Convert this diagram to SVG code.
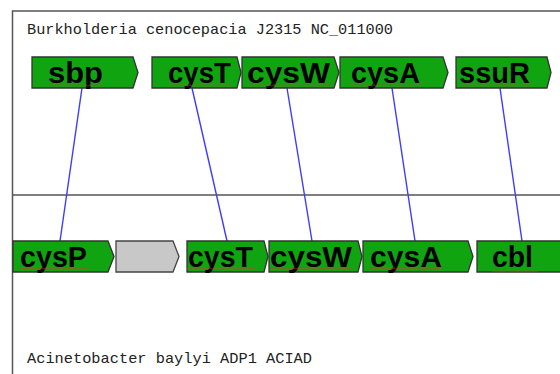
<svg xmlns="http://www.w3.org/2000/svg" width="560" height="374" viewBox="0 0 560 374">
<defs>
<style>
.gene{fill:#10a510;stroke:#333;stroke-width:1.3}
.gray{fill:#c8c8c8;stroke:#444;stroke-width:1.3}
.lbl{font-family:"Liberation Sans",Arial,sans-serif;font-weight:bold;font-size:29px;fill:#000}
.title{font-family:"Liberation Mono","DejaVu Sans Mono",monospace;font-size:15px;fill:#222}
.link{stroke:#3c3cff;stroke-width:1.4;fill:none}
.frame{stroke:#555;stroke-width:1.5;fill:none}
.sq{fill:url(#wave)}
</style>
<pattern id="wave" width="4" height="3" patternUnits="userSpaceOnUse">
<path d="M0,2.5 L2,0.5 L4,2.5" stroke="#e03030" stroke-width="0.8" fill="none"/>
</pattern>
</defs>
<rect width="560" height="374" fill="#fff"/>
<g id="frame">
<path class="frame" d="M12.5,374 V11 H560"/>
<path class="frame" d="M12.5,195 H560"/>
</g>
<text class="title" x="27" y="34" textLength="366" lengthAdjust="spacingAndGlyphs">Burkholderia cenocepacia J2315 NC_011000</text>
<text class="title" x="27" y="363" textLength="285" lengthAdjust="spacingAndGlyphs">Acinetobacter baylyi ADP1 ACIAD</text>
<g id="connectors">
<line class="link" x1="82" y1="88" x2="60" y2="241"/>
<line class="link" x1="192" y1="88" x2="227" y2="241"/>
<line class="link" x1="287" y1="88" x2="312" y2="241"/>
<line class="link" x1="392" y1="88" x2="415" y2="241"/>
<line class="link" x1="500" y1="88" x2="522" y2="241"/>
</g>
<g id="top-sbp"><path class="gene" d="M32,57 H133 L138,72.5 L133,88 H32 Z"/><text class="lbl" x="48" y="83" textLength="55" lengthAdjust="spacingAndGlyphs">sbp</text><rect class="sq" x="48" y="84" width="56" height="3"/></g>
<g id="top-cysT"><path class="gene" d="M152,57 H237 L241,72.5 L237,88 H152 Z"/><text class="lbl" x="168" y="83" textLength="63" lengthAdjust="spacingAndGlyphs">cysT</text><rect class="sq" x="168" y="84" width="64" height="3"/></g>
<g id="top-cysW"><path class="gene" d="M242,57 H334 L339,72.5 L334,88 H242 Z"/><text class="lbl" x="247" y="83" textLength="83" lengthAdjust="spacingAndGlyphs">cysW</text><rect class="sq" x="247" y="84" width="84" height="3"/></g>
<g id="top-cysA"><path class="gene" d="M340,57 H443 L448,72.5 L443,88 H340 Z"/><text class="lbl" x="351" y="83" textLength="69" lengthAdjust="spacingAndGlyphs">cysA</text><rect class="sq" x="350" y="84" width="72" height="3"/></g>
<g id="top-ssuR"><path class="gene" d="M456,57 H547 L551,72.5 L547,88 H456 Z"/><text class="lbl" x="459" y="83" textLength="71" lengthAdjust="spacingAndGlyphs">ssuR</text><rect class="sq" x="459" y="84" width="72" height="3"/></g>
<g id="bot-cysP"><path class="gene" d="M13,241 H108 L114,256.5 L108,272 H13 Z"/><text class="lbl" x="20" y="267" textLength="67" lengthAdjust="spacingAndGlyphs">cysP</text><rect class="sq" x="20" y="267" width="68" height="3"/></g>
<g id="bot-gray"><path class="gray" d="M116,241 H173 L179,256.5 L173,272 H116 Z"/></g>
<g id="bot-cysT"><path class="gene" d="M187,241 H264 L268,256.5 L264,272 H187 Z"/><text class="lbl" x="188" y="267" textLength="65" lengthAdjust="spacingAndGlyphs">cysT</text><rect class="sq" x="187" y="267" width="68" height="3"/></g>
<g id="bot-cysW"><path class="gene" d="M269,241 H358 L362,256.5 L358,272 H269 Z"/><text class="lbl" x="270" y="267" textLength="82" lengthAdjust="spacingAndGlyphs">cysW</text><rect class="sq" x="270" y="267" width="83" height="3"/></g>
<g id="bot-cysA"><path class="gene" d="M363,241 H468 L473,256.5 L468,272 H363 Z"/><text class="lbl" x="370" y="267" textLength="72" lengthAdjust="spacingAndGlyphs">cysA</text><rect class="sq" x="370" y="267" width="72" height="3"/></g>
<g id="bot-cbl"><path class="gene" d="M477,241 H565 V272 H477 Z"/><text class="lbl" x="492" y="267" textLength="41" lengthAdjust="spacingAndGlyphs">cbl</text><rect class="sq" x="492" y="270" width="46" height="3"/></g>
</svg>
